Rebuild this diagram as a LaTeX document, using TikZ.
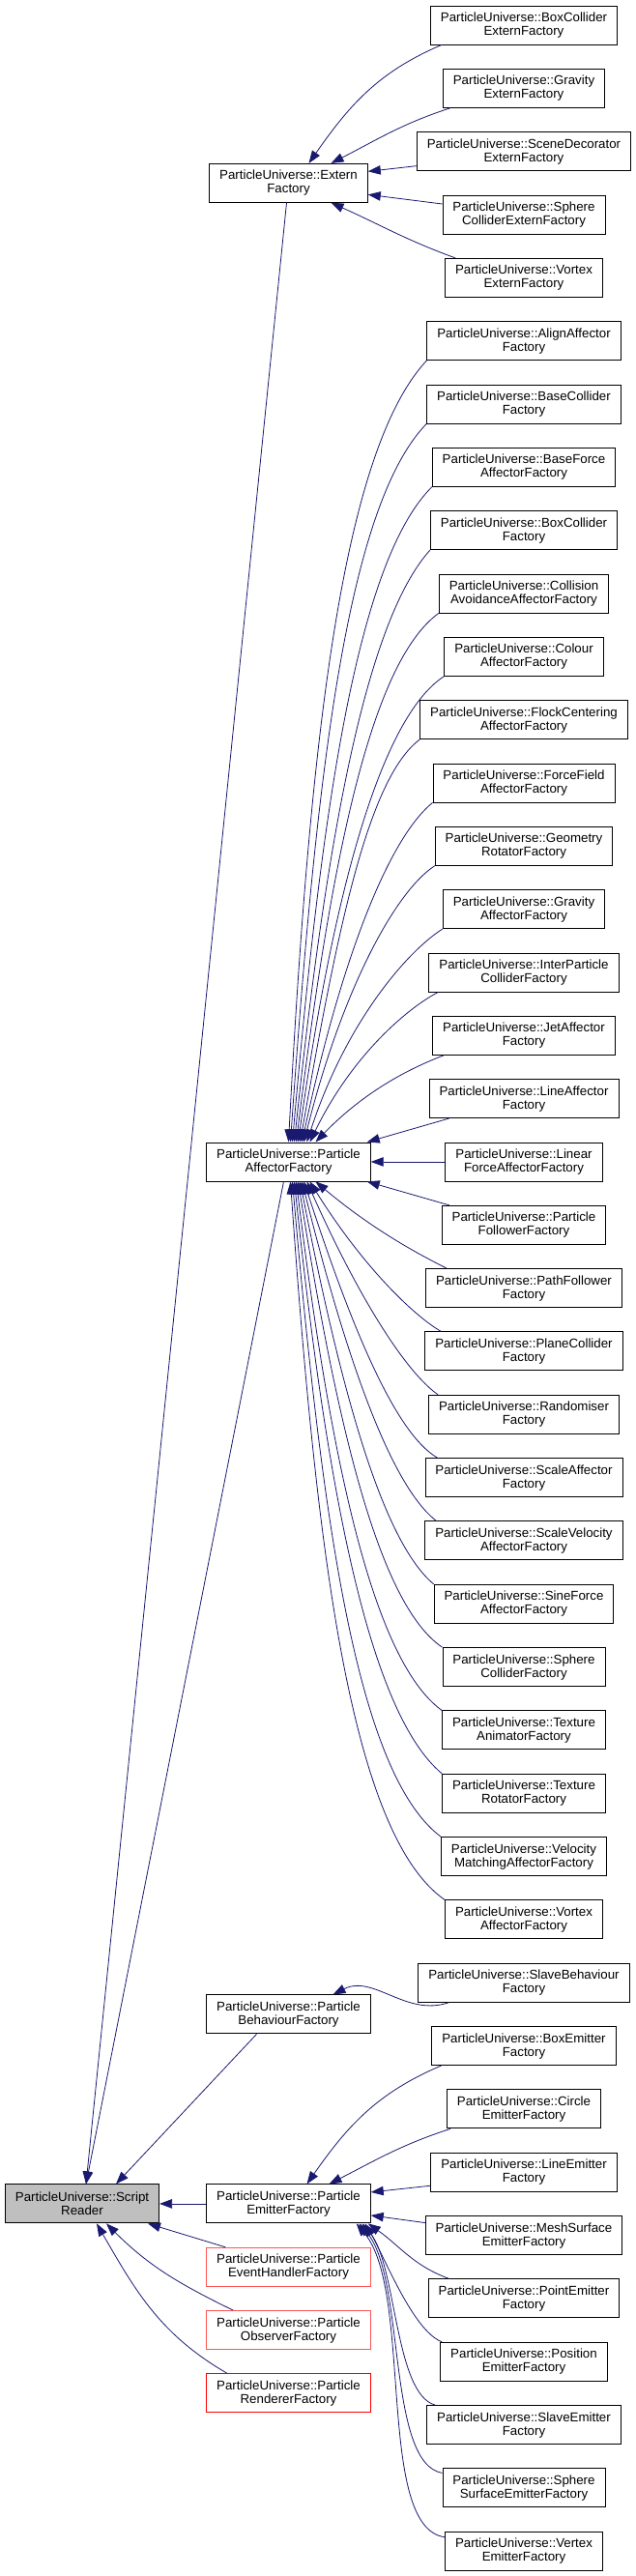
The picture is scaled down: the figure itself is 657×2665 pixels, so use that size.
\documentclass[tikz,border=0pt]{standalone}
\usepackage{fontspec}
\setmainfont{Liberation Sans}
\usepackage{xcolor}
\usepackage{tikz}
\usetikzlibrary{arrows.meta}
\definecolor{edgeblue}{HTML}{191970}
\definecolor{rootgray}{HTML}{BFBFBF}
\definecolor{lightred}{HTML}{FF5555}

\begin{document}
\begin{tikzpicture}[<-,>={Triangle[length=13pt,width=9.5pt]},x=1pt,y=1pt]
\tikzstyle{every node}=[draw,rectangle,align=center,line width=0.9pt,
                        inner xsep=10.5pt,minimum height=40pt,
                        font=\fontsize{13.3}{14}\selectfont]
\tikzstyle{every edge}=[draw=edgeblue,line width=0.8pt]
\tikzstyle{fan}=[out looseness=1.3,in looseness=0.4]
\tikzstyle{bundle}=[out looseness=0.7,in looseness=0.55]
\useasboundingbox (0,0) rectangle (657,-2665);
\path
node (R11) at (542,-26) {ParticleUniverse::BoxCollider\\ExternFactory}
(R11.center) ++ (0,-65.33) node (R12) {ParticleUniverse::Gravity\\ExternFactory}
(R12.center) ++ (0,-65.33) node (R13) {ParticleUniverse::SceneDecorator\\ExternFactory}
(R13.center) ++ (0,-65.33) node (R14) {ParticleUniverse::Sphere\\ColliderExternFactory}
(R14.center) ++ (0,-65.33) node (R15) {ParticleUniverse::Vortex\\ExternFactory}
(R15.center) ++ (0,-65.33) node (R201) {ParticleUniverse::AlignAffector\\Factory}
(R201.center) ++ (0,-65.33) node (R202) {ParticleUniverse::BaseCollider\\Factory}
(R202.center) ++ (0,-65.33) node (R203) {ParticleUniverse::BaseForce\\AffectorFactory}
(R203.center) ++ (0,-65.33) node (R204) {ParticleUniverse::BoxCollider\\Factory}
(R204.center) ++ (0,-65.33) node (R205) {ParticleUniverse::Collision\\AvoidanceAffectorFactory}
(R205.center) ++ (0,-65.33) node (R206) {ParticleUniverse::Colour\\AffectorFactory}
(R206.center) ++ (0,-65.33) node (R207) {ParticleUniverse::FlockCentering\\AffectorFactory}
(R207.center) ++ (0,-65.33) node (R208) {ParticleUniverse::ForceField\\AffectorFactory}
(R208.center) ++ (0,-65.33) node (R209) {ParticleUniverse::Geometry\\RotatorFactory}
(R209.center) ++ (0,-65.33) node (R210) {ParticleUniverse::Gravity\\AffectorFactory}
(R210.center) ++ (0,-65.33) node (R211) {ParticleUniverse::InterParticle\\ColliderFactory}
(R211.center) ++ (0,-65.33) node (R212) {ParticleUniverse::JetAffector\\Factory}
(R212.center) ++ (0,-65.33) node (R213) {ParticleUniverse::LineAffector\\Factory}
(R213.center) ++ (0,-65.33) node (R214) {ParticleUniverse::Linear\\ForceAffectorFactory}
(R214.center) ++ (0,-65.33) node (R215) {ParticleUniverse::Particle\\FollowerFactory}
(R215.center) ++ (0,-65.33) node (R216) {ParticleUniverse::PathFollower\\Factory}
(R216.center) ++ (0,-65.33) node (R217) {ParticleUniverse::PlaneCollider\\Factory}
(R217.center) ++ (0,-65.33) node (R218) {ParticleUniverse::Randomiser\\Factory}
(R218.center) ++ (0,-65.33) node (R219) {ParticleUniverse::ScaleAffector\\Factory}
(R219.center) ++ (0,-65.33) node (R220) {ParticleUniverse::ScaleVelocity\\AffectorFactory}
(R220.center) ++ (0,-65.33) node (R221) {ParticleUniverse::SineForce\\AffectorFactory}
(R221.center) ++ (0,-65.33) node (R222) {ParticleUniverse::Sphere\\ColliderFactory}
(R222.center) ++ (0,-65.33) node (R223) {ParticleUniverse::Texture\\AnimatorFactory}
(R223.center) ++ (0,-65.33) node (R224) {ParticleUniverse::Texture\\RotatorFactory}
(R224.center) ++ (0,-65.33) node (R225) {ParticleUniverse::Velocity\\MatchingAffectorFactory}
(R225.center) ++ (0,-65.33) node (R226) {ParticleUniverse::Vortex\\AffectorFactory}
(R226.center) ++ (0,-65.33) node (R31) {ParticleUniverse::SlaveBehaviour\\Factory}
(R31.center) ++ (0,-65.33) node (R41) {ParticleUniverse::BoxEmitter\\Factory}
(R41.center) ++ (0,-65.33) node (R42) {ParticleUniverse::Circle\\EmitterFactory}
(R42.center) ++ (0,-65.33) node (R43) {ParticleUniverse::LineEmitter\\Factory}
(R43.center) ++ (0,-65.33) node (R44) {ParticleUniverse::MeshSurface\\EmitterFactory}
(R44.center) ++ (0,-65.33) node (R45) {ParticleUniverse::PointEmitter\\Factory}
(R45.center) ++ (0,-65.33) node (R46) {ParticleUniverse::Position\\EmitterFactory}
(R46.center) ++ (0,-65.33) node (R47) {ParticleUniverse::SlaveEmitter\\Factory}
(R47.center) ++ (0,-65.33) node (R48) {ParticleUniverse::Sphere\\SurfaceEmitterFactory}
(R48.center) ++ (0,-65.33) node (R49) {ParticleUniverse::Vertex\\EmitterFactory}
(R13.center) ++ (-243.5,-32.67) node (R1) {ParticleUniverse::Extern\\Factory}
(R214.center) ++ (-243.5,0) node (R2) {ParticleUniverse::Particle\\AffectorFactory}
(R31.center) ++ (-243.5,-32.67) node (R3) {ParticleUniverse::Particle\\BehaviourFactory}
(R43.center) ++ (-243.5,-32.67) node (R4) {ParticleUniverse::Particle\\EmitterFactory}
(R4.center) ++ (0,-65.33) node[draw=lightred] (R5) {ParticleUniverse::Particle\\EventHandlerFactory}
(R5.center) ++ (0,-65.33) node[draw=lightred] (R6) {ParticleUniverse::Particle\\ObserverFactory}
(R6.center) ++ (0,-65.33) node[draw=red] (R7) {ParticleUniverse::Particle\\RendererFactory}
(R4.center) ++ (-213.5,0) node[fill=rootgray] (R) {ParticleUniverse::Script\\Reader};

% extern factories
\path ([xshift=21pt]R1.north) edge[out=55,in=203] ([xshift=12pt]R11.south west)
      ([xshift=44pt]R1.north) edge[out=27,in=198] ([xshift=8pt]R12.south west)
      ([yshift=12pt]R1.east) edge ([yshift=-15pt]R13.west)
      ([yshift=-12pt]R1.east) edge ([yshift=11pt]R14.west)
      ([xshift=44pt]R1.south) edge[out=-24,in=160] ([xshift=11pt]R15.north west);

% affector factories
\path ([xshift=0pt]R2.north) edge[fan,out=87,in=227] (R201.south west)
      ([xshift=2pt]R2.north) edge[fan,out=86,in=226] (R202.south west)
      ([xshift=4pt]R2.north) edge[fan,out=85,in=225] (R203.south west)
      ([xshift=6pt]R2.north) edge[fan,out=84,in=228] (R204.south west)
      ([xshift=8pt]R2.north) edge[fan,out=83,in=216] (R205.south west)
      ([xshift=10pt]R2.north) edge[fan,out=82,in=213] (R206.south west)
      ([xshift=12pt]R2.north) edge[fan,out=80,in=217] (R207.south west)
      ([xshift=14pt]R2.north) edge[fan,out=78,in=219] (R208.south west)
      ([xshift=16pt]R2.north) edge[fan,out=76,in=213] (R209.south west)
      ([xshift=19pt]R2.north) edge[fan,out=72,in=212] (R210.south west)
      ([xshift=22pt]R2.north) edge[fan,out=64,in=207] ([xshift=10pt]R211.south west)
      ([xshift=28pt]R2.north) edge[fan,out=46,in=201] ([xshift=12pt]R212.south west)
      ([xshift=-4pt]R2.north east) edge ([xshift=21pt]R213.south west)
      (R2.east) edge (R214.west)
      ([xshift=-4pt]R2.south east) edge ([xshift=8pt]R215.north west)
      ([xshift=28pt]R2.south) edge[fan,out=-40,in=153] ([xshift=22pt]R216.north west)
      ([xshift=22pt]R2.south) edge[fan,out=-58,in=150] ([xshift=17pt]R217.north west)
      ([xshift=19pt]R2.south) edge[fan,out=-66,in=145] ([xshift=10pt]R218.north west)
      ([xshift=16pt]R2.south) edge[fan,out=-72,in=150] ([xshift=13pt]R219.north west)
      ([xshift=14pt]R2.south) edge[fan,out=-76,in=142] ([xshift=12pt]R220.north west)
      ([xshift=12pt]R2.south) edge[fan,out=-79,in=140] (R221.north west)
      ([xshift=10pt]R2.south) edge[fan,out=-81,in=146] (R222.north west)
      ([xshift=8pt]R2.south) edge[fan,out=-83,in=144] (R223.north west)
      ([xshift=6pt]R2.south) edge[fan,out=-84,in=140] (R224.north west)
      ([xshift=4pt]R2.south) edge[fan,out=-85,in=143] (R225.north west)
      ([xshift=2pt]R2.south) edge[fan,out=-86,in=145] (R226.north west);

% behaviour and emitter factories
\path ([xshift=46pt]R3.north) edge[out=27,in=199] ([xshift=32pt]R31.south west)
      ([xshift=19pt]R4.north) edge[out=55,in=203] ([xshift=10pt]R41.south west)
      ([xshift=42pt]R4.north) edge[out=27,in=198] ([xshift=4pt]R42.south west)
      ([yshift=12pt]R4.east) edge ([yshift=-14pt]R43.west)
      ([yshift=-12pt]R4.east) edge ([yshift=13pt]R44.west)
      ([xshift=-3pt]R4.south east) edge[out=-35,in=160] ([xshift=22pt]R45.north west)
      ([xshift=-6pt]R4.south east) edge[bundle,out=-60,in=160] ([xshift=2pt]R46.north west)
      ([xshift=-9pt]R4.south east) edge[bundle,out=-50,in=165] ([xshift=9pt]R47.north west)
      ([xshift=-12pt]R4.south east) edge[bundle,out=-50,in=170] ([yshift=-5pt]R48.north west)
      ([xshift=-15pt]R4.south east) edge[bundle,out=-50,in=172] ([yshift=-6pt]R49.north west);

% script reader
\path ([xshift=4pt]R.north) edge ([xshift=-2pt]R1.south)
      ([xshift=4pt]R.north) edge ([xshift=-5pt]R2.south)
      ([xshift=35pt]R.north) edge ([xshift=-33pt]R3.south)
      (R.east) edge (R4.west)
      ([xshift=68pt]R.south) edge ([xshift=20pt]R5.north west)
      ([xshift=25pt]R.south) edge[out=-45,in=154] ([xshift=28pt]R6.north west)
      ([xshift=15pt]R.south) edge[out=-60,in=150] ([xshift=22pt]R7.north west);
\end{tikzpicture}
\end{document}
